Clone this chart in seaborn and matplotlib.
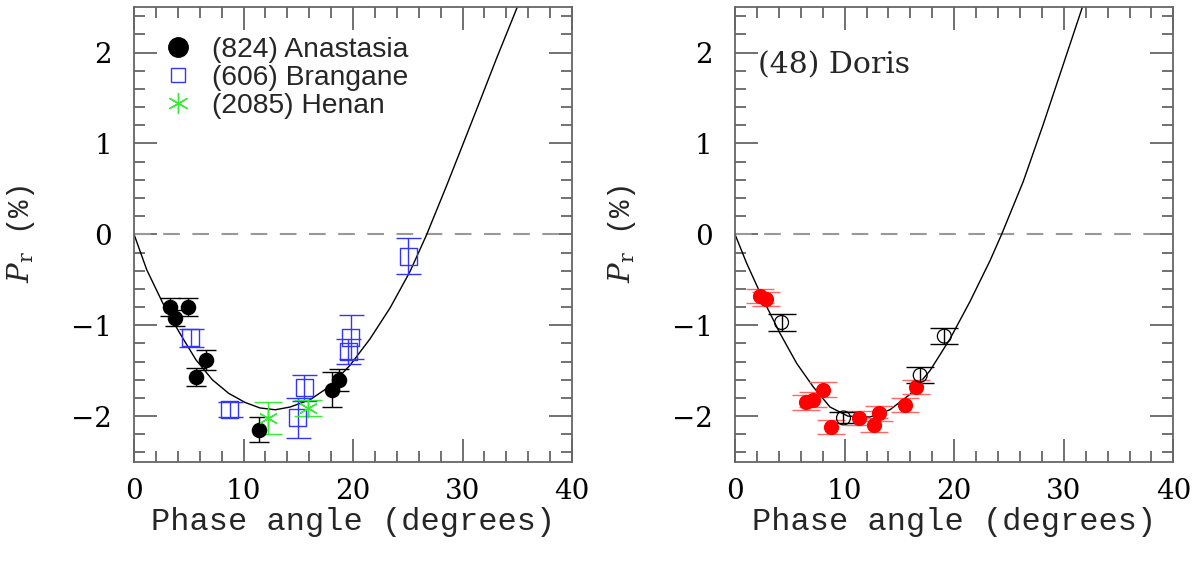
import numpy as np
import matplotlib
matplotlib.use("Agg")
import matplotlib.pyplot as plt
from matplotlib.lines import Line2D
from matplotlib.ticker import MultipleLocator
import seaborn as sns

# ---- data ----
# left panel
anastasia_phase = [3.3, 3.75, 4.9, 5.65, 6.6, 11.45, 18.1, 18.75]
anastasia_pr = [-0.80, -0.92, -0.80, -1.57, -1.38, -2.15, -1.71, -1.60]
anastasia_err = [0.10, 0.09, 0.10, 0.10, 0.11, 0.14, 0.19, 0.12]

brangane_phase = [5.2, 8.75, 14.95, 15.55, 19.55, 19.8, 25.05]
brangane_pr = [-1.14, -1.93, -2.02, -1.69, -1.29, -1.13, -0.24]
brangane_err = [0.10, 0.08, 0.22, 0.14, 0.14, 0.24, 0.20]

henan_phase = [12.25, 15.85]
henan_pr = [-2.02, -1.91]
henan_err = [0.18, 0.09]

fit_left_phase = [0, 1.16, 2.64, 4.14, 5.65, 7.15, 8.65, 10.15, 11.5, 12.9, 14.25,
                  16.07, 17.9, 19.73, 21.55, 23.38, 25.2, 26.7, 28.56, 30.1, 31.6, 33.12, 35.0]
fit_left_pr = [0, -0.39, -0.76, -1.08, -1.38, -1.60, -1.75, -1.85, -1.91, -1.93, -1.90,
               -1.82, -1.67, -1.44, -1.15, -0.81, -0.41, -0.01, 0.54, 1.01, 1.47, 1.94, 2.5]

# right panel: (48) Doris
doris_new_phase = [2.3, 2.8, 6.5, 7.15, 8.0, 8.8, 11.35, 12.7, 13.1, 15.5, 16.5]
doris_new_pr = [-0.68, -0.71, -1.85, -1.82, -1.71, -2.12, -2.02, -2.10, -1.97, -1.88, -1.68]
doris_new_err = [0.08, 0.08, 0.08, 0.08, 0.08, 0.08, 0.08, 0.08, 0.08, 0.08, 0.08]

doris_old_phase = [4.25, 9.9, 16.9, 19.1]
doris_old_pr = [-0.97, -2.02, -1.55, -1.12]
doris_old_err = [0.09, 0.06, 0.09, 0.09]

fit_right_phase = [0, 1.07, 2.58, 4.11, 5.63, 7.15, 8.67, 10.3, 12.32, 14.14, 15.97,
                   17.79, 19.62, 21.44, 23.27, 24.33, 26.3, 28.1, 29.93, 31.7]
fit_right_pr = [0, -0.32, -0.72, -1.09, -1.42, -1.68, -1.90, -2.00, -2.01, -1.93, -1.76,
                -1.50, -1.15, -0.74, -0.29, 0.0, 0.58, 1.20, 1.86, 2.5]

sns.set_style("ticks")
plt.rcParams["mathtext.fontset"] = "dejavuserif"
plt.rcParams["font.family"] = ["DejaVu Serif", "DejaVu Sans"]

fig = plt.figure(figsize=(12, 5.66), dpi=100)
ax1 = fig.add_axes([0.1117, 0.1845, 0.365, 0.803])
ax2 = fig.add_axes([0.6125, 0.1845, 0.3653, 0.803])

grey = "#666666"

def style_axes(ax):
    ax.set_xlim(0, 40)
    ax.set_ylim(-2.5, 2.5)
    ax.xaxis.set_major_locator(MultipleLocator(10))
    ax.xaxis.set_minor_locator(MultipleLocator(2))
    ax.yaxis.set_major_locator(MultipleLocator(1))
    ax.yaxis.set_minor_locator(MultipleLocator(0.2))
    for s in ax.spines.values():
        s.set_color(grey)
        s.set_linewidth(1.3)
    ax.tick_params(which="both", direction="in", top=True, right=True,
                   color=grey, width=1.3, labelcolor="black", labelsize=20)
    ax.tick_params(which="major", length=16.5)
    ax.tick_params(which="minor", length=8)
    ax.tick_params(axis="y", pad=16)
    ax.tick_params(axis="x", pad=12)
    ax.axhline(0, color="#999999", lw=1.5, dashes=(8, 6), zorder=1)
    ax.set_xlabel("Phase angle (degrees)", family="Liberation Mono", fontsize=23, labelpad=1)
    ax.set_ylabel(r"$P_{\rm r}$ (%)", family="Liberation Mono", fontsize=21)
    ax.yaxis.set_label_coords(-0.222, 0.5)

for ax in (ax1, ax2):
    style_axes(ax)

# ---- left panel ----
sns.lineplot(x=fit_left_phase, y=fit_left_pr, sort=False, color="black", lw=1, ax=ax1, zorder=2)

ax1.errorbar(anastasia_phase, anastasia_pr, yerr=anastasia_err, fmt="none",
             ecolor="black", elinewidth=1, capsize=7, capthick=1, zorder=3)
sns.scatterplot(x=anastasia_phase, y=anastasia_pr, color="black", marker="o",
                s=125, linewidth=0, ax=ax1, zorder=4)

ax1.errorbar(brangane_phase, brangane_pr, yerr=brangane_err, fmt="none",
             ecolor="#3333ff", elinewidth=1, capsize=9, capthick=1, zorder=3)
sns.scatterplot(x=brangane_phase, y=brangane_pr, marker="s", s=150,
                facecolor="none", edgecolor="#3333ff", linewidth=1, ax=ax1, zorder=4)

ax1.errorbar(henan_phase, henan_pr, yerr=henan_err, fmt="none",
             ecolor="#33ee33", elinewidth=1, capsize=10, capthick=1, zorder=3)
sns.scatterplot(x=henan_phase, y=henan_pr, marker=(6, 2, 0), s=170,
                color="#33ee33", linewidth=1, ax=ax1, zorder=4)

handles = [
    Line2D([], [], ls="none", marker="o", ms=14, color="black"),
    Line2D([], [], ls="none", marker="s", ms=10, mfc="none", mec="#3333ff", mew=1),
    Line2D([], [], ls="none", marker=(6, 2, 0), ms=15, color="#33ee33", mew=1),
]
ax1.legend(handles, ["(824) Anastasia", "(606) Brangane", "(2085) Henan"],
           loc="upper left", bbox_to_anchor=(0.068, 0.935), frameon=False,
           borderpad=0, borderaxespad=0, handlelength=1.0, handletextpad=0.72,
           labelspacing=0.08, prop={"family": "Liberation Sans", "size": 20.3})

# ---- right panel ----
sns.lineplot(x=fit_right_phase, y=fit_right_pr, sort=False, color="black", lw=1, ax=ax2, zorder=2)

ax2.errorbar(doris_new_phase, doris_new_pr, yerr=doris_new_err, fmt="none",
             ecolor="#ff6666", elinewidth=1, capsize=10, capthick=1, zorder=3)
sns.scatterplot(x=doris_new_phase, y=doris_new_pr, color="#ff0000", marker="o",
                s=120, linewidth=0, ax=ax2, zorder=4)

ax2.errorbar(doris_old_phase, doris_old_pr, yerr=doris_old_err, fmt="none",
             ecolor="black", elinewidth=1, capsize=10, capthick=1, zorder=3)
sns.scatterplot(x=doris_old_phase, y=doris_old_pr, marker="o", s=100,
                facecolor="none", edgecolor="black", linewidth=0.9, ax=ax2, zorder=4)

ax2.text(0.0525, 0.8724, "(48) Doris", transform=ax2.transAxes, fontsize=21.5,
         family="DejaVu Serif", va="center", ha="left")

fig.savefig("out.png", dpi=100)
